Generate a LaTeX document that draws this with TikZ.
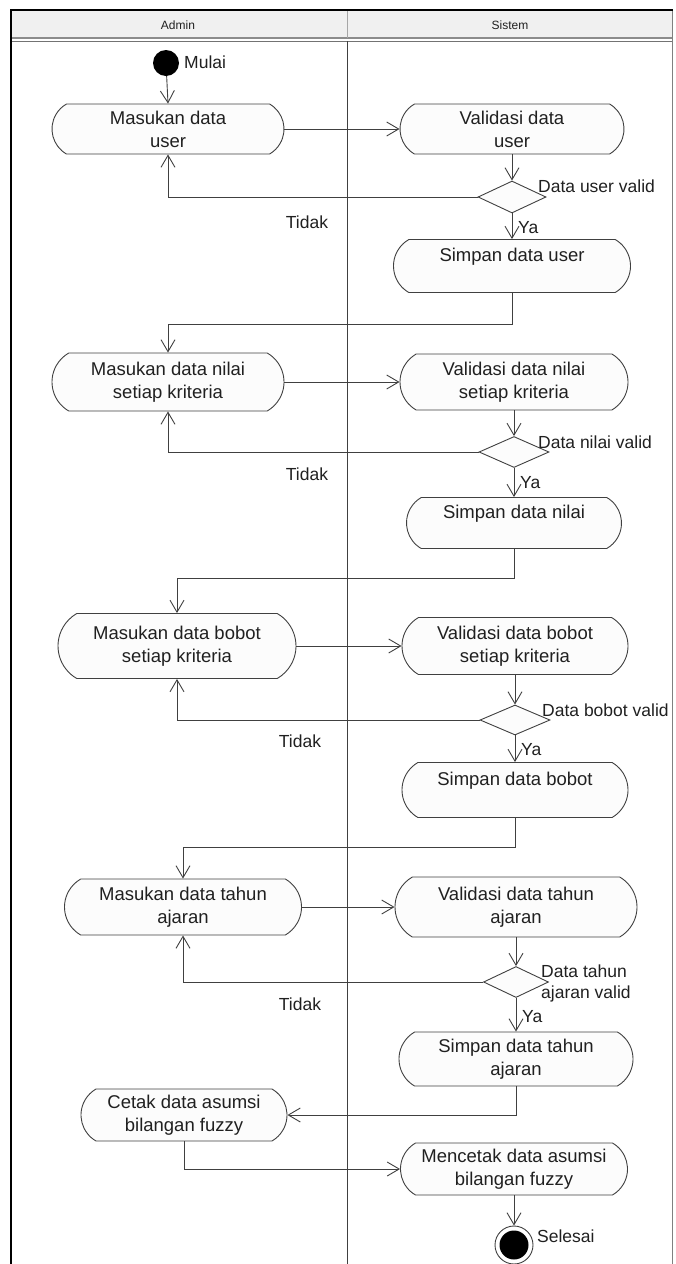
\documentclass[tikz,border=0pt]{standalone}
\usepackage{fontspec}
\setmainfont{Liberation Sans}
\usetikzlibrary{shapes.misc,shapes.geometric,arrows.meta}
\definecolor{hdr}{HTML}{F0F0F0}
\definecolor{edge}{HTML}{404040}
\definecolor{actfill}{HTML}{FCFCFC}
\definecolor{ink}{HTML}{202020}
\begin{document}
\begin{tikzpicture}[x=1pt,y=-1pt,
  act/.style={draw=edge, line width=0.9pt, fill=actfill, rounded rectangle,
    rounded rectangle arc length=120, inner sep=0pt, align=center,
    font=\fontsize{18.5}{23}\selectfont, text=ink},
  dec/.style={draw=edge, line width=0.9pt, fill=actfill, diamond, inner sep=0pt},
  flow/.style={draw=edge, line width=0.9pt},
  arr/.style={flow, -{Straight Barb[length=12pt,width=14pt,line width=0.9pt]}},
  lbl/.style={font=\fontsize{17.5}{21}\selectfont, text=ink, inner sep=0pt},
  lane/.style={font=\fontsize{12}{14}\selectfont, text=ink, inner sep=0pt}
]
\useasboundingbox (0,0) rectangle (675,1264);

% swimlane frame and header
\fill[hdr] (11,10) rectangle (672,38);
\draw[black!45, line width=1.2pt] (11,38) -- (672,38);
\draw[black!55, line width=1pt] (11,41) -- (672,41);
\draw[black!35, line width=1pt] (347,10) -- (347,38);
\draw[edge, line width=1pt] (347,41) -- (347,1264);
\draw[black!50, line width=1pt] (672,10) -- (672,1264);
\draw[black, line width=2pt] (10,10) -- (673,10);
\draw[black, line width=2pt] (11,10) -- (11,1264);
\node[lane] (hAdmin) at (178,25) {Admin};
\node[lane] (hSistem) at (510,25) {Sistem};

% start
\node[circle, fill=black, minimum size=26pt, inner sep=0pt] (start) at (166,63) {};
\node[lbl, anchor=base west] (mulai) at (184,68) {Mulai};

% user data
\node[act, minimum width=232pt, minimum height=50pt] (A1) at (168,129) {Masukan data\\user};
\node[act, minimum width=224pt, minimum height=50pt] (S1) at (512,129) {Validasi data\\user};
\node[dec, minimum width=68pt, minimum height=32pt] (D1) at (512,197) {};
\node[act, minimum width=237pt, minimum height=53pt] (P1) at (512,266) {Simpan data user\\~};
\coordinate (c1) at (512,324);

% criteria values
\node[act, minimum width=232pt, minimum height=58pt] (A2) at (168,382) {Masukan data nilai\\setiap kriteria};
\node[act, minimum width=228pt, minimum height=56pt] (S2) at (514,382) {Validasi data nilai\\setiap kriteria};
\node[dec, minimum width=70pt, minimum height=31pt] (D2) at (514,452) {};
\node[act, minimum width=215pt, minimum height=51pt] (P2) at (514,523) {Simpan data nilai\\~};
\coordinate (c2) at (514,578);

% criteria weights
\node[act, minimum width=238pt, minimum height=65pt] (A3) at (177,646) {Masukan data bobot\\setiap kriteria};
\node[act, minimum width=226pt, minimum height=57pt] (S3) at (515,646) {Validasi data bobot\\setiap kriteria};
\node[dec, minimum width=70pt, minimum height=30pt] (D3) at (515,720) {};
\node[act, minimum width=226pt, minimum height=55pt] (P3) at (515,790) {Simpan data bobot\\~};
\coordinate (c3) at (515,847);

% academic year
\node[act, minimum width=237pt, minimum height=56pt] (A4) at (183,907) {Masukan data tahun\\ajaran};
\node[act, minimum width=242pt, minimum height=60pt] (S4) at (516,907) {Validasi data tahun\\ajaran};
\node[dec, minimum width=65pt, minimum height=31pt] (D4) at (516,982) {};
\node[act, minimum width=234pt, minimum height=54pt] (P4) at (516,1059) {Simpan data tahun\\ajaran};

% printing
\node[act, minimum width=206pt, minimum height=52pt] (A5) at (184,1115) {Cetak data asumsi\\bilangan fuzzy};
\node[act, minimum width=227pt, minimum height=52pt] (S5) at (514,1169) {Mencetak data asumsi\\bilangan fuzzy};

% end
\node[circle, draw=edge, line width=0.9pt, fill=white, minimum size=38pt, inner sep=0pt] (stop) at (514,1245) {};
\node[circle, fill=black, minimum size=29pt, inner sep=0pt] (stopin) at (stop.center) {};
\node[lbl, anchor=base west] (selesai) at (537,1242) {Selesai};

% flows
\draw[arr] (start) -- (A1.north);
\draw[arr] (A1.east) -- (S1.west);
\draw[arr] (S1.south) -- (D1.north);
\draw[arr] (D1.west) -| (A1.south);
\draw[arr] (D1.south) -- (P1.north);
\draw[arr] (P1.south) -- (c1) -| (A2.north);

\draw[arr] (A2.east) -- (S2.west);
\draw[arr] (S2.south) -- (D2.north);
\draw[arr] (D2.west) -| (A2.south);
\draw[arr] (D2.south) -- (P2.north);
\draw[arr] (P2.south) -- (c2) -| (A3.north);

\draw[arr] (A3.east) -- (S3.west);
\draw[arr] (S3.south) -- (D3.north);
\draw[arr] (D3.west) -| (A3.south);
\draw[arr] (D3.south) -- (P3.north);
\draw[arr] (P3.south) -- (c3) -| (A4.north);

\draw[arr] (A4.east) -- (S4.west);
\draw[arr] (S4.south) -- (D4.north);
\draw[arr] (D4.west) -| (A4.south);
\draw[arr] (D4.south) -- (P4.north);
\draw[arr] (P4.south) |- (A5.east);
\draw[arr] (A5.south) |- (S5.west);
\draw[arr] (S5.south) -- (stop.north);

% guard and branch labels
\node[lbl, anchor=base west] (g1) at (538,192) {Data user valid};
\node[lbl] (t1) at (307,222) {Tidak};
\node[lbl, anchor=west] (y1) at (518,228) {Ya};

\node[lbl, anchor=base west] (g2) at (538,448) {Data nilai valid};
\node[lbl] (t2) at (307,474) {Tidak};
\node[lbl, anchor=west] (y2) at (520,483) {Ya};

\node[lbl, anchor=base west] (g3) at (542,716) {Data bobot valid};
\node[lbl] (t3) at (300,741) {Tidak};
\node[lbl, anchor=west] (y3) at (521,750) {Ya};

\node[lbl, anchor=base west] (g4a) at (541,977) {Data tahun};
\node[lbl, anchor=base west] (g4b) at (541,998) {ajaran valid};
\node[lbl] (t4) at (300,1004) {Tidak};
\node[lbl, anchor=west] (y4) at (522,1017) {Ya};
\end{tikzpicture}
\end{document}
